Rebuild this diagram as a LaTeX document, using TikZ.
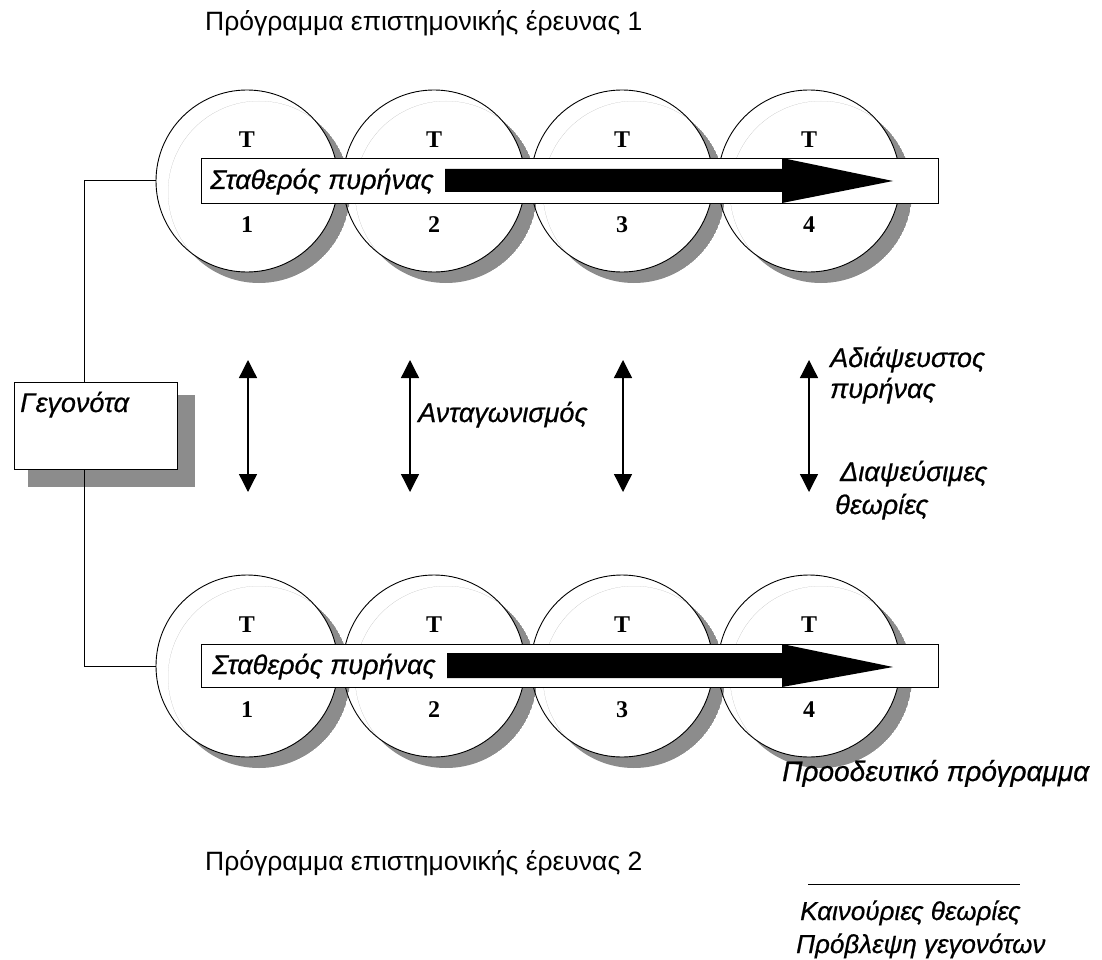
\documentclass[tikz,border=0pt]{standalone}
\usepackage{fontspec}
\setmainfont{Liberation Sans}
\newfontfamily\tnr{Liberation Serif}
\newfontfamily\labfont[FakeBold=0.6]{Liberation Sans}
\usetikzlibrary{arrows.meta}
\definecolor{shadowgray}{RGB}{140,140,140}
\begin{document}
\begin{tikzpicture}[x=1pt,y=-1pt,
  circ/.style={circle, draw, line width=0.9pt, minimum size=182pt, inner sep=0pt},
  bar/.style={draw, fill=white, line width=0.9pt, minimum width=737pt, inner sep=0pt},
  lab/.style={font=\fontsize{27}{31}\selectfont\labfont\itshape, inner sep=0pt, anchor=base west},
  ttl/.style={font=\fontsize{26.5}{30}\selectfont, inner sep=0pt, anchor=base west},
  tnum/.style={font=\fontsize{24}{28}\selectfont\tnr\bfseries, inner sep=0pt},
  dbl/.style={{Triangle[length=18pt,width=18pt]}-{Triangle[length=18pt,width=18pt]}, line width=1.3pt},
  conn/.style={line width=1pt},
  bigarrow/.style={fill=black},
]
\useasboundingbox (0,0) rectangle (1102,960);
\fill[white] (0,0) rectangle (1102,960);

% shadows of circles
\foreach \x in {247,434,622,809}{
  \foreach \y in {181,666}{
    \begin{scope}
      \clip (\x+12,\y+11) circle [radius=91pt];
      \fill[shadowgray, even odd rule] (\x+12,\y+11) circle [radius=91pt] (\x,\y) circle [radius=91pt];
    \end{scope}
  }
}
% circles
\node[circ] (t1) at (247,181) {};
\node[circ] (t2) at (434,181) {};
\node[circ] (t3) at (622,181) {};
\node[circ] (t4) at (809,181) {};
\node[circ] (b1) at (247,666) {};
\node[circ] (b2) at (434,666) {};
\node[circ] (b3) at (622,666) {};
\node[circ] (b4) at (809,666) {};

% bars
\node[bar, minimum height=45pt] (bar1) at (569.5,180.5) {};
\node[bar, minimum height=43pt] (bar2) at (570,665.5) {};
\fill[bigarrow] (445,169) -- (782,169) -- (782,158) -- (893,181) -- (782,203) -- (782,192) -- (445,192) -- cycle;
\fill[bigarrow] (447,653) -- (782,653) -- (782,644) -- (893,667) -- (782,687) -- (782,678) -- (447,678) -- cycle;
\node[lab] (core1) at (210,189) {Σταθερός πυρήνας};
\node[lab] (core2) at (212,674) {Σταθερός πυρήνας};

% T and numbers
\foreach \x/\n in {247/1,434/2,622/3,809/4}{
  \node[tnum] at (\x,140) {T};
  \node[tnum] at (\x,225) {\n};
  \node[tnum] at (\x,625) {T};
  \node[tnum] at (\x,710) {\n};
}

% facts box
\fill[shadowgray] (28,395) rectangle (195,487);
\node[draw, fill=white, line width=1pt, minimum width=163pt, minimum height=87pt, inner sep=0pt] (geg) at (95.5,425.5) {};
\node[lab] (gegt) at (20,412) {Γεγονότα};
\draw[conn] ([xshift=-11.5pt]geg.north) |- (t1.west);
\draw[conn] ([xshift=-11.5pt]geg.south) |- (b1.west);

% double arrows
\coordinate (a1t) at (248,360); \coordinate (a1b) at (248,492);
\coordinate (a2t) at (410,360); \coordinate (a2b) at (410,492);
\coordinate (a3t) at (623,360); \coordinate (a3b) at (623,492);
\coordinate (a4t) at (809,360); \coordinate (a4b) at (809,492);
\draw[dbl] (a1t) -- (a1b);
\draw[dbl] (a2t) -- (a2b);
\draw[dbl] (a3t) -- (a3b);
\draw[dbl] (a4t) -- (a4b);

\node[lab] (comp) at (418,422) {Ανταγωνισμός};
\node[lab] (irr1) at (830,367) {Αδιάψευστος};
\node[lab] (irr2) at (830,398) {πυρήνας};
\node[lab] (fal1) at (840,481) {Διαψεύσιμες};
\node[lab] (fal2) at (835,514) {θεωρίες};

% titles
\node[ttl] (title1) at (205,31) {Πρόγραμμα επιστημονικής έρευνας 1};
\node[ttl] (title2) at (205,870) {Πρόγραμμα επιστημονικής έρευνας 2};

% legend
\node[lab, font=\fontsize{28}{32}\selectfont\labfont\itshape] (prog) at (782,781) {Προοδευτικό πρόγραμμα};
\draw[conn] (808,884) -- (1020,884);
\node[lab, font=\fontsize{26}{30}\selectfont\labfont\itshape] (newth) at (800,920) {Καινούριες θεωρίες};
\node[lab, font=\fontsize{26}{30}\selectfont\labfont\itshape] (pred) at (796,953) {Πρόβλεψη γεγονότων};
\end{tikzpicture}
\end{document}
